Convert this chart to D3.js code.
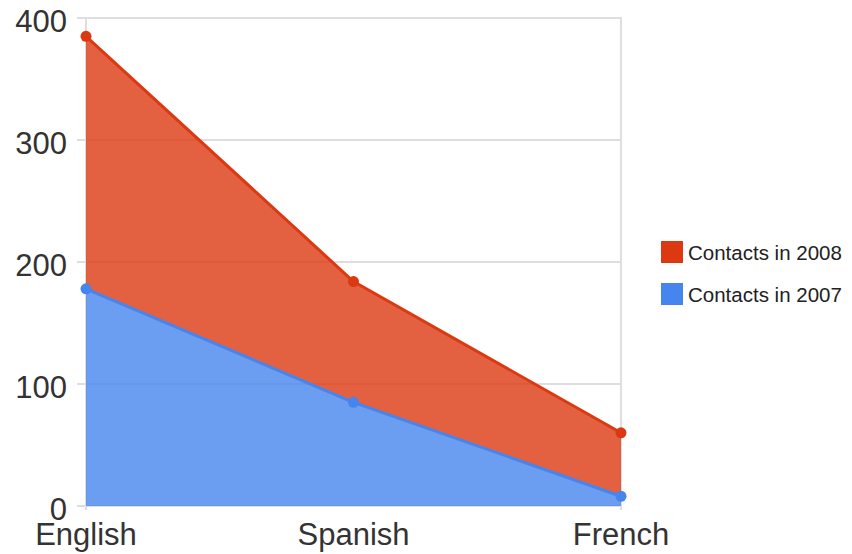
<!DOCTYPE html>
<html>
<head>
<meta charset="utf-8">
<script src="https://cdn.jsdelivr.net/npm/d3@7"></script>
<style>
  html, body { margin: 0; padding: 0; background: #fff; }
  svg { display: block; font-family: "Liberation Sans", Arial, Helvetica, sans-serif; }
</style>
</head>
<body>
<svg id="chart" width="852" height="554"></svg>
<script>
// Contacts per language
const languages = ["English", "Spanish", "French"];
const contacts2008 = [385, 184, 60];
const contacts2007 = [178, 85, 8];
const yTicks = [0, 100, 200, 300, 400];
const seriesNames = ["Contacts in 2008", "Contacts in 2007"];
const seriesColors = ["#DC3912", "#4684EE"];

const svg = d3.select("#chart");
const plot = { left: 86, right: 621, top: 18, bottom: 506 };

const x = d3.scalePoint().domain(languages).range([plot.left, plot.right]);
const y = d3.scaleLinear().domain([0, 400]).range([plot.bottom, plot.top]);

// Horizontal gridlines with short ticks to the left of the axis
const grid = svg.append("g");
grid.selectAll("line.h")
  .data(yTicks)
  .join("line")
  .attr("x1", plot.left - 9)
  .attr("x2", plot.right)
  .attr("y1", d => y(d))
  .attr("y2", d => y(d))
  .attr("stroke", "#dedede")
  .attr("stroke-width", 2);

// Vertical frame lines at left and right of the plot
grid.selectAll("line.v")
  .data([plot.left, plot.right])
  .join("line")
  .attr("x1", d => d).attr("x2", d => d)
  .attr("y1", plot.top - 1).attr("y2", plot.bottom + 4)
  .attr("stroke", "#dedede")
  .attr("stroke-width", 2);

const rows = languages.map((lang, i) => ({ lang, a: contacts2008[i], b: contacts2007[i] }));

// Band between the 2007 and 2008 lines
svg.append("path")
  .datum(rows)
  .attr("d", d3.area().x(d => x(d.lang)).y0(d => y(d.b)).y1(d => y(d.a)))
  .attr("fill", seriesColors[0])
  .attr("fill-opacity", 0.8);

// Area under the 2007 line
svg.append("path")
  .datum(rows)
  .attr("d", d3.area().x(d => x(d.lang)).y0(y(0)).y1(d => y(d.b)))
  .attr("fill", seriesColors[1])
  .attr("fill-opacity", 0.8);

// Series lines and markers
[contacts2008, contacts2007].forEach((vals, s) => {
  const pts = languages.map((lang, i) => [x(lang), y(vals[i])]);
  svg.append("path")
    .attr("d", d3.line()(pts))
    .attr("fill", "none")
    .attr("stroke", seriesColors[s])
    .attr("stroke-width", 3)
    .attr("stroke-linejoin", "round");
  svg.append("g").selectAll("circle")
    .data(pts)
    .join("circle")
    .attr("cx", d => d[0])
    .attr("cy", d => d[1])
    .attr("r", 5.5)
    .attr("fill", seriesColors[s]);
});

// Y axis labels
svg.append("g").selectAll("text")
  .data(yTicks)
  .join("text")
  .attr("x", 67)
  .attr("y", d => y(d) + 14)
  .attr("text-anchor", "end")
  .attr("font-size", 31)
  .attr("fill", "#333")
  .text(d => d);

// X axis labels
svg.append("g").selectAll("text")
  .data(languages)
  .join("text")
  .attr("x", d => x(d))
  .attr("y", 545)
  .attr("text-anchor", "middle")
  .attr("font-size", 31)
  .attr("fill", "#333")
  .text(d => d);

// Legend
const legend = svg.append("g").attr("transform", "translate(661,241)");
const item = legend.selectAll("g")
  .data(seriesNames)
  .join("g")
  .attr("transform", (d, i) => `translate(0,${i * 42})`);
item.append("rect")
  .attr("width", 22).attr("height", 22)
  .attr("fill", (d, i) => seriesColors[i]);
item.append("text")
  .attr("x", 27)
  .attr("y", 18.5)
  .attr("font-size", 20.5)
  .attr("fill", "#222")
  .text(d => d);
</script>
</body>
</html>
